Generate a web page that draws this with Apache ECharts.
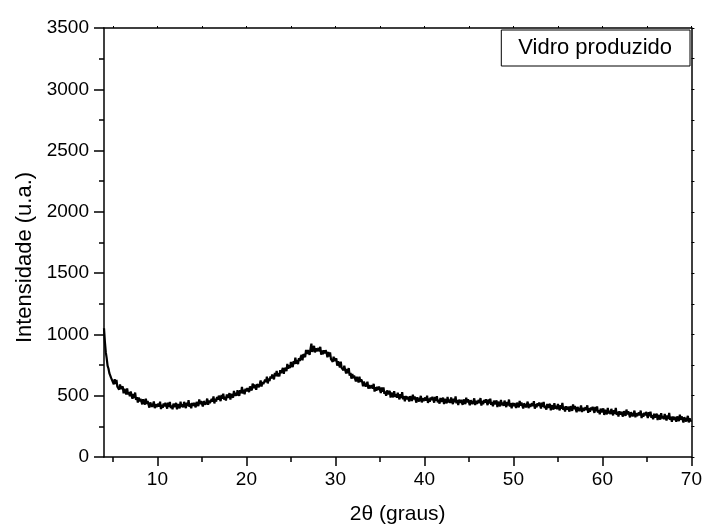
<!DOCTYPE html>
<html>
<head>
<meta charset="utf-8">
<script src="https://cdn.jsdelivr.net/npm/echarts@6/dist/echarts.min.js"></script>
<style>html,body{margin:0;padding:0;background:#fff}#c{width:705px;height:530px}</style>
</head>
<body>
<div id="c"></div>
<script>
// 2θ sampling grid of the diffractogram (degrees)
const angStart = 4.0;
const angStep = 0.1;
// Intensity (u.a.), one value per 0.1° from 4.0° to 70.0°
const intensidade = [
1050,940,855,806,745,722,684,672,645,640,
634,593,635,596,629,573,588,550,591,555,
551,577,519,557,543,511,559,511,528,496,
535,501,475,514,482,526,466,489,445,485,
454,475,484,430,471,449,427,476,434,456,
441,403,445,454,409,428,453,398,431,407,
395,435,410,451,391,427,401,436,413,442,
429,394,443,410,449,399,421,389,436,407,
409,441,388,432,424,397,451,409,431,405,
450,421,399,443,416,464,409,437,397,442,
416,442,455,405,450,433,415,469,430,457,
446,412,456,469,427,450,477,426,462,441,
432,474,452,495,437,476,452,489,469,500,
489,456,506,475,516,468,491,461,510,482,
486,520,469,515,508,484,539,499,523,499,
545,518,499,545,520,571,518,548,511,558,
534,562,576,529,575,560,543,599,562,591,
581,549,595,610,570,595,624,575,613,594,
587,631,611,656,600,641,619,658,640,673,
664,634,687,659,703,658,684,657,709,684,
691,727,679,727,723,701,759,721,748,726,
775,750,733,781,758,811,760,792,757,806,
784,815,833,789,839,827,814,873,840,872,
866,834,881,925,857,882,907,853,887,863,
852,889,861,899,835,869,839,871,845,871,
854,814,857,819,853,798,814,777,819,784,
781,805,745,781,765,731,777,727,742,708,
745,709,681,718,684,726,664,685,639,677,
644,664,671,616,655,632,608,656,612,633,
616,576,615,622,575,592,614,557,588,561,
547,585,558,597,534,569,540,573,548,575,
559,522,567,532,568,516,534,500,544,512,
511,540,485,526,515,486,537,492,512,483,
525,494,470,512,482,529,471,497,455,498,
469,493,504,453,496,477,457,509,469,494,
481,444,487,497,453,474,499,445,480,456,
445,485,460,501,441,477,451,486,463,492,
479,444,491,458,497,446,467,435,481,451,
453,484,431,473,464,437,490,446,468,441,
485,455,432,475,447,494,438,465,424,468,
441,465,477,426,470,451,432,484,445,470,
458,422,464,475,431,452,478,424,459,435,
425,465,440,481,420,457,431,465,443,471,
458,423,470,437,475,425,446,413,460,429,
431,462,408,451,441,414,466,423,444,417,
460,430,407,450,421,469,412,439,398,442,
414,439,450,400,443,425,406,458,419,444,
432,396,438,449,405,426,452,398,433,409,
399,439,414,455,394,431,405,439,417,445,
432,396,444,410,449,398,419,386,433,402,
404,434,381,423,414,386,439,395,417,389,
433,402,380,422,394,441,384,411,370,414,
386,410,422,371,415,396,376,429,389,415,
402,365,408,418,375,395,420,367,401,378,
367,406,381,422,361,397,370,404,382,410,
396,360,408,374,412,362,382,349,395,365,
366,396,343,385,375,348,400,356,377,350,
393,362,340,382,353,401,344,370,329,373,
345,369,381,330,373,355,335,387,347,373,
360,323,366,376,332,353,378,324,358,335,
324,363,339,379,318,355,328,362,339,368,
354,318,366,332,370,320,340,307,353,323,
324,354,301,343,333,306,358,314,335,308,
351,320,298,340,311,359,302,328,287,331,
303,327,339,288,331,313,293,345,305,331,
318,281,324,334,290,311,336,282,316,293,
300
];
const xMajorTicks = [10, 20, 30, 40, 50, 60, 70];
const xMinorTicks = [5, 15, 25, 35, 45, 55, 65];
const xTopTicks = [5, 10, 15, 20, 25, 30, 35, 40, 45, 50, 55, 60, 65, 70];
const xRange = [4, 70];
const yRange = [0, 3500];
const serieNome = 'Vidro produzido';
const xTitulo = '2θ (graus)';
const yTitulo = 'Intensidade (u.a.)';

const pontos = intensidade.map((v, i) => [+(angStart + i * angStep).toFixed(2), v]);

const FONT = '"Liberation Sans", Arial, sans-serif';
const axisLine = { show: true, onZero: false, lineStyle: { color: '#000', width: 1.5 } };

const chart = echarts.init(document.getElementById('c'), null, { renderer: 'canvas' });
chart.setOption({
  animation: false,
  backgroundColor: '#fff',
  grid: { left: 104, right: 12, top: 28, bottom: 69, containLabel: false },
  legend: {
    show: true,
    data: [serieNome],
    right: 15, top: 30,
    icon: 'none', itemWidth: 0, itemHeight: 0, itemGap: 0,
    borderColor: '#000', borderWidth: 1, borderRadius: 0,
    padding: [7, 18, 7, 12],
    textStyle: { fontFamily: FONT, fontSize: 22, color: '#000' },
    selectedMode: false
  },
  xAxis: [
    {
      type: 'value', min: xRange[0], max: xRange[1], position: 'bottom',
      name: xTitulo, nameLocation: 'middle', nameGap: 47,
      nameTextStyle: { fontFamily: FONT, fontSize: 21, color: '#000' },
      axisLine: axisLine,
      axisTick: { show: true, inside: false, length: 9, customValues: xMajorTicks, lineStyle: { color: '#000', width: 1.5 } },
      axisLabel: { show: true, customValues: xMajorTicks, margin: 13, fontFamily: FONT, fontSize: 19, color: '#000', formatter: v => String(v) },
      splitLine: { show: false }
    },
    {
      type: 'value', min: xRange[0], max: xRange[1], position: 'bottom', gridIndex: 0,
      axisLine: { show: false },
      axisTick: { show: true, inside: false, length: 5, customValues: xMinorTicks, lineStyle: { color: '#000', width: 1.5 } },
      axisLabel: { show: false },
      splitLine: { show: false }
    },
    {
      type: 'value', min: xRange[0], max: xRange[1], position: 'top',
      axisLine: axisLine,
      axisTick: { show: true, inside: false, length: 2, customValues: xTopTicks, lineStyle: { color: '#000', width: 1 } },
      axisLabel: { show: false },
      splitLine: { show: false }
    }
  ],
  yAxis: [
    {
      type: 'value', min: yRange[0], max: yRange[1], interval: 500, position: 'left',
      name: yTitulo, nameLocation: 'middle', nameGap: 66, nameRotate: 90,
      nameTextStyle: { fontFamily: FONT, fontSize: 22, color: '#000', padding: [0, 30, 0, 0] },
      axisLine: axisLine,
      axisTick: { show: true, inside: false, length: 10, lineStyle: { color: '#000', width: 1.5 } },
      minorTick: { show: true, splitNumber: 2, length: 5, lineStyle: { color: '#000', width: 1.5 } },
      axisLabel: { show: true, margin: 15, fontFamily: FONT, fontSize: 19, color: '#000', formatter: v => String(v) },
      splitLine: { show: false }, minorSplitLine: { show: false }
    },
    {
      type: 'value', min: yRange[0], max: yRange[1], interval: 250, position: 'right',
      axisLine: axisLine,
      axisTick: { show: true, inside: false, length: 3, lineStyle: { color: '#000', width: 1 } },
      axisLabel: { show: false },
      splitLine: { show: false }
    }
  ],
  series: [
    {
      name: serieNome, type: 'line', xAxisIndex: 0, yAxisIndex: 0,
      data: pontos, showSymbol: false, symbol: 'none', sampling: null,
      lineStyle: { color: '#000', width: 2.2 }, itemStyle: { color: '#000' },
      clip: true, z: 3
    }
  ]
});
</script>
</body>
</html>
